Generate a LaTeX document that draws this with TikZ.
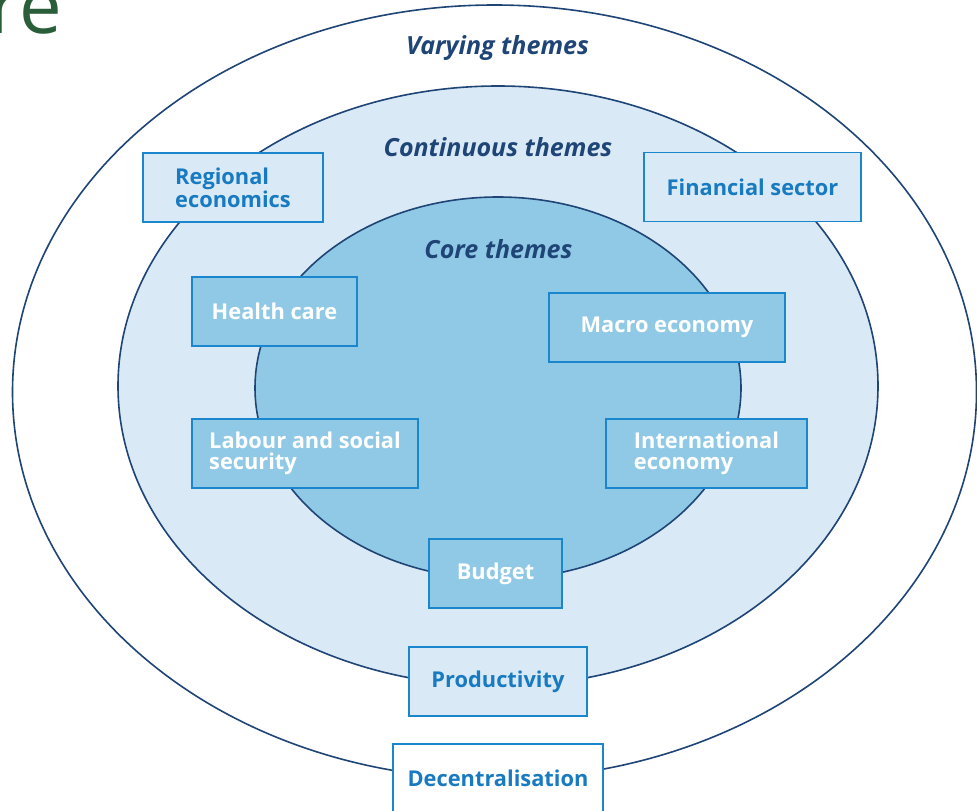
\documentclass[tikz,border=0pt]{standalone}
\usepackage{fontspec}
\setmainfont{Open Sans}
\usetikzlibrary{positioning}
\definecolor{figMarino}{RGB}{31,68,118}
\definecolor{figAzulClaro}{RGB}{217,234,246}
\definecolor{figAzulMedio}{RGB}{144,201,230}
\definecolor{figBorde}{RGB}{26,134,205}
\definecolor{figTexto}{RGB}{24,122,192}
\definecolor{figVerde}{RGB}{42,94,58}
\tikzset{
  anillo/.style={draw=figMarino, line width=1.6pt},
  tema/.style={
    rectangle, draw=figBorde, line width=1.8pt,
    fill=figAzulClaro, text=figTexto, minimum height=69pt,
    align=center, inner sep=0pt,
    font=\bfseries\fontsize{21.8}{21}\selectfont
  },
  temaizq/.style={tema, align=left},
  nucleo/.style={tema, fill=figAzulMedio, text=white},
  nucleoizq/.style={nucleo, align=left},
  titulo/.style={
    anchor=base, inner sep=0pt, text=figMarino,
    font=\bfseries\itshape\fontsize{25}{27}\selectfont
  }
}

\begin{document}
\begin{tikzpicture}[x=1pt, y=-1pt]
  \useasboundingbox (0,0) rectangle (977,811);

  % slide title, cut at the page edge
  \node[anchor=base east, inner sep=0pt, text=figVerde,
        font=\fontsize{76}{76}\selectfont] (cabecera) at (62,33) {re};

  % the three rings
  \draw[anillo, fill=white] (494.5,392) ellipse [x radius=482pt, y radius=387pt];
  \draw[anillo, fill=figAzulClaro] (498,386) ellipse [x radius=380pt, y radius=300pt];
  \draw[anillo, fill=figAzulMedio] (498,388) ellipse [x radius=243pt, y radius=191pt];

  \node[titulo] (variables) at (497.5,54) {Varying themes};
  \node[titulo] (continuos) at (498,156) {Continuous themes};
  \node[titulo] (centrales) at (498.5,258) {Core themes};

  % continuous themes
  \node[temaizq, minimum width=180pt] (regional) at (233,187.5) {Regional\\economics};
  \node[tema, minimum width=217pt] (financiero) at (752.5,187) {Financial sector};
  \node[tema, minimum width=178pt] (productividad) at (498,681.5) {Productivity};

  % core themes
  \node[nucleo, minimum width=165pt] (salud) at (274.5,311.5) {Health care};
  \node[nucleo, minimum width=236pt] (macro) at (667,327.5) {Macro economy};
  \node[nucleoizq, minimum width=226pt] (trabajo) at (305,453.5) {Labour and social\\security};
  \node[nucleoizq, minimum width=201pt] (internacional) at (706.5,453.5) {International\\economy};
  \node[nucleo, minimum width=133pt] (presupuesto) at (495.5,573.5) {Budget};

  % varying themes
  \node[tema, fill=white, minimum width=210pt] (descentral) at (498,778.5) {Decentralisation};
\end{tikzpicture}
\end{document}
